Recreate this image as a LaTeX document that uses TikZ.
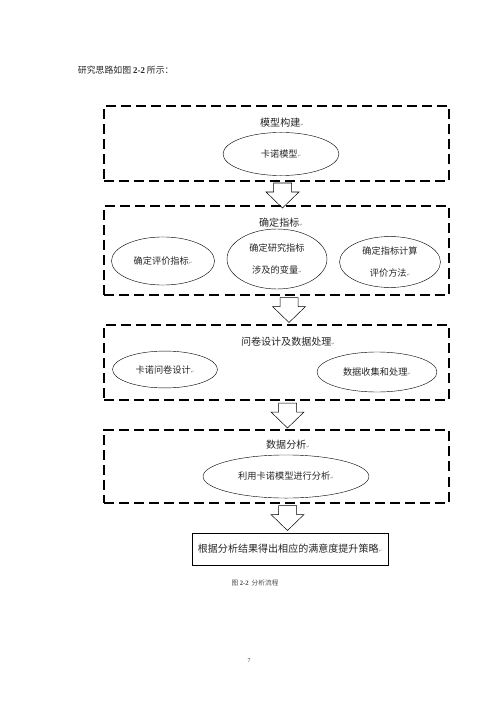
\documentclass[tikz,border=0pt]{standalone}
\usepackage{fontspec}
\setmainfont{Noto Sans CJK SC}
\newfontfamily\latin{Liberation Serif}
\newfontfamily\dejavu{DejaVu Sans}
\usetikzlibrary{shapes.geometric}
\newcommand{\pmark}{{\dejavu\fontsize{5}{5}\selectfont\textcolor{gray}{↵}}}

\begin{document}
\begin{tikzpicture}[x=0.042cm, y=-0.042cm, text=black!85,
	stage/.style={draw, rectangle, line width=1.6pt, dash pattern=on 12pt off 6pt, minimum width=14.49cm},
	title/.style={font=\fontsize{12}{14}\selectfont},
	oval/.style={draw, ellipse, line width=0.5pt, inner sep=0pt, align=center, font=\fontsize{11}{26}\selectfont},
	bigarrow/.pic={\draw[line width=0.6pt] (-9,0) -- (9,0) -- (9,9) -- (16.5,9) -- (0,25) -- (-16.5,9) -- (-9,9) -- cycle;}]
	\useasboundingbox (0,0) rectangle (500,707);
	\node (T) [anchor=west, font=\fontsize{10.6}{12}\selectfont] at (75,70) {研究思路如图 {\latin\bfseries 2-2} 所示：};

	% step 1
	\node (S1) [stage, minimum height=3.15cm] at (276.5,143.5) {};
	\node (S1t) [title] at (282,123) {模型构建\pmark};
	\node (E1) [oval, minimum width=4.87cm, minimum height=1.81cm] at (281,154) {卡诺模型\pmark};
	\pic (A1) at (282.5,183) {bigarrow};

	% step 2
	\node (S2) [stage, minimum height=3.74cm] at (276.5,250.5) {};
	\node (S2t) [title] at (281,223) {确定指标\pmark};
	\node (E2) [oval, minimum width=4.33cm, minimum height=2.02cm] at (163,261) {确定评价指标\pmark};
	\node (E3) [oval, minimum width=4.2cm, minimum height=2.52cm] at (277,259) {确定研究指标\\涉及的变量\pmark};
	\node (E4) [oval, minimum width=4.24cm, minimum height=2.14cm] at (390,262) {确定指标计算\\评价方法\pmark};
	\pic (A2) at (289,297.5) {bigarrow};

	% step 3
	\node (S3) [stage, minimum height=3.15cm] at (276.5,362.5) {};
	\node (S3t) [title] at (288,342) {问卷设计及数据处理\pmark};
	\node (E5) [oval, minimum width=4.41cm, minimum height=1.55cm] at (165,369.5) {卡诺问卷设计\pmark};
	\node (E6) [oval, minimum width=5.04cm, minimum height=1.68cm] at (377,372) {数据收集和处理\pmark};
	\pic (A3) at (287.5,403) {bigarrow};

	% step 4
	\node (S4) [stage, minimum height=3.07cm] at (276.5,466.5) {};
	\node (S4t) [title] at (288,445) {数据分析\pmark};
	\node (E7) [oval, minimum width=6.97cm, minimum height=1.81cm] at (286,476.5) {利用卡诺模型进行分析\pmark};
	\pic (A4) at (287.5,505.5) {bigarrow};

	% result
	\node (R) [draw, line width=0.6pt, minimum width=8.23cm, minimum height=1.34cm, font=\fontsize{12}{14}\selectfont] at (290,549) {根据分析结果得出相应的满意度提升策略\pmark};
	\node (C) [text=black!70, font=\fontsize{8}{10}\selectfont] at (255,582.5) {图 {\latin\bfseries 2-2}\ \ 分析流程};
	\node (P) [font=\fontsize{7}{8}\selectfont\latin] at (249,661) {7};
\end{tikzpicture}
\end{document}
